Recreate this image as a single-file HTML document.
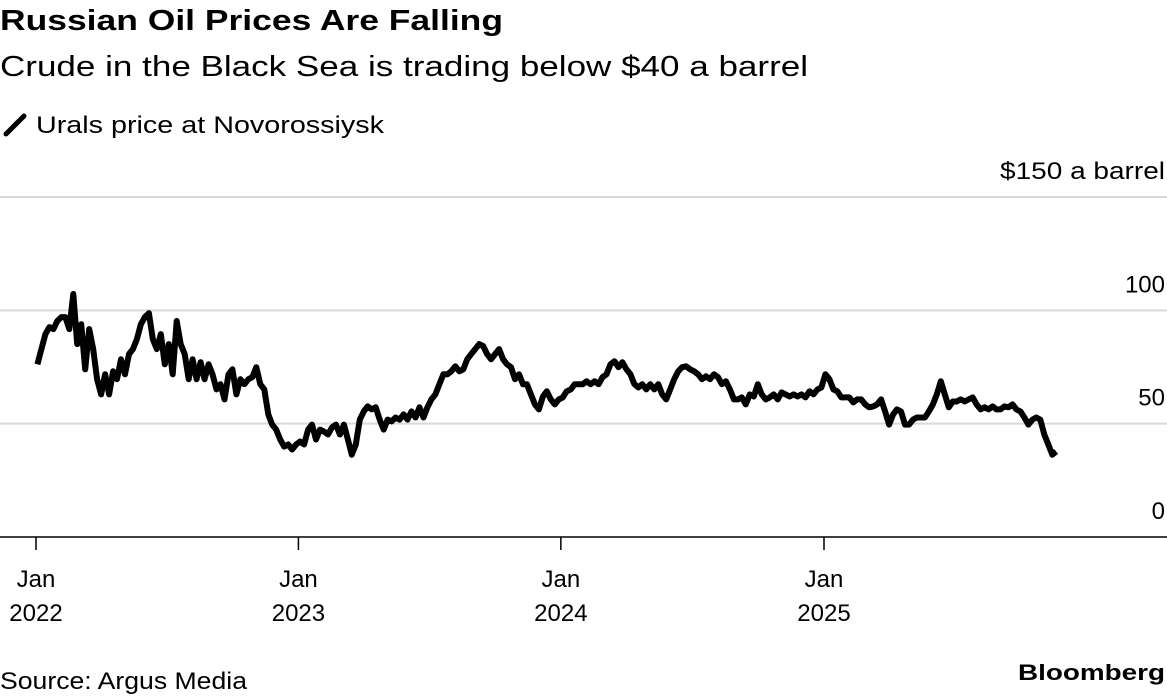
<!DOCTYPE html>
<html><head><meta charset="utf-8"><style>
body{margin:0;background:#fff;width:1167px;height:696px;overflow:hidden;font-family:"Liberation Sans",sans-serif;color:#000}
</style></head><body>
<svg width="1167" height="696" style="position:absolute;left:0;top:0">
<text x="0" y="30" font-size="29" font-weight="bold" textLength="503" lengthAdjust="spacingAndGlyphs">Russian Oil Prices Are Falling</text>
<text x="0" y="76" font-size="29" textLength="808" lengthAdjust="spacingAndGlyphs">Crude in the Black Sea is trading below $40 a barrel</text>
<g>
<line x1="6" y1="134" x2="24" y2="116" stroke="#000" stroke-width="5" stroke-linecap="round"/>
<text x="36" y="133" font-size="24" textLength="348" lengthAdjust="spacingAndGlyphs">Urals price at Novorossiysk</text>
</g>
<g id="grid"></g><g id="xaxis"></g>
<path id="line" fill="none" stroke="#000" stroke-width="6" stroke-linejoin="round"/>
<text x="0" y="689" font-size="24" textLength="247" lengthAdjust="spacingAndGlyphs">Source: Argus Media</text>
<text x="1018" y="680" font-size="22" font-weight="bold" textLength="147" lengthAdjust="spacingAndGlyphs">Bloomberg</text>
</svg>
<script>
const yTicks=[0,50,100,150];
const yTickLabels=["0","50","100","$150 a barrel"];
const xTicks=["2022-01-01","2023-01-01","2024-01-01","2025-01-01"];
const xTickLabels=[["Jan","2022"],["Jan","2023"],["Jan","2024"],["Jan","2025"]];
const startDate="2022-01-03", endDate="2025-11-20";
const prices=[76.2,82.9,89.5,92.6,91.7,95.3,97,97,91.7,107.2,85.1,93.9,74,91.7,82.9,69.6,62.9,71.8,62.9,73.1,69.6,78.4,71.8,80.7,82.9,87.3,93.9,97,98.8,87.3,82.9,89.5,76.2,85.1,71.8,95.3,85.1,80.7,69.6,78.4,69.6,77.1,69.6,76.2,71.8,65.1,67.4,60.7,71.8,74,62.9,69.6,67.4,69.6,70.5,74.9,67.4,65.1,54.1,49.6,47.4,43,39.9,40.8,38.6,40.8,42.1,40.8,47.4,49.6,43,47.4,46.5,45.2,48.3,49.6,45.2,49.6,43,36.3,40.8,51.8,55.4,57.6,56.3,57.2,51.8,47.4,51.8,51,52.7,51.8,54.1,51.8,55.4,52.7,57.2,52.7,57.2,60.7,62.9,67.4,71.8,71.8,73.1,75.3,73.1,74,78.4,80.7,82.9,85.1,84.2,80.7,78.4,80.7,82.9,78.4,76.2,74.9,69.6,71.8,67.4,67.4,62.9,58.5,56.3,62,64.3,60.7,58.5,60.7,61.6,64.3,65.1,67.4,67.4,67.4,68.7,67.4,68.7,67.4,70.5,71.8,76.2,77.5,74.9,77.1,74,71.8,67.4,66,67.4,65.1,67.4,65.1,67.4,62.9,60.7,65.1,69.6,73.1,74.9,75.3,74,73.1,71.8,69.6,70.9,69.6,71.8,70.5,67.4,68.7,65.1,60.7,60.7,61.6,58.5,62.9,62,67.4,62.9,60.7,61.6,62.9,60.7,63.8,62.9,62,62.9,62,62.9,61.6,64.3,62.9,65.1,66,71.8,69.6,65.1,64.3,61.6,61.6,61.6,59.4,60.7,60.7,58.5,57.2,57.6,58.5,60.7,55.4,49.6,54.1,56.3,55.4,49.6,49.6,51.8,52.7,52.7,52.7,55.4,58.5,62.9,68.7,62.9,57.2,59.8,59.8,60.7,59.8,60.7,61.6,58.5,56.3,57.2,56.3,57.6,56.3,56.3,57.6,57.2,58.5,56.3,55.4,52.7,49.6,51.8,52.7,51.8,45.2,40.8,36.3,37.7];
const NS="http://www.w3.org/2000/svg";
const t0=Date.parse("2022-01-01"),t1=Date.parse("2025-01-01");
function xs(d){return 36+(Date.parse(d)-t0)/(t1-t0)*(824-36);}
function xt(ms){return 36+(ms-t0)/(t1-t0)*(824-36);}
function ys(v){return 537-v*(537-197)/150;}
const grid=document.getElementById('grid');
yTicks.forEach((v,i)=>{
 const l=document.createElementNS(NS,'line');
 l.setAttribute('x1',0);l.setAttribute('x2',1167);l.setAttribute('y1',ys(v));l.setAttribute('y2',ys(v));
 l.setAttribute('stroke',v===0?'#000':'#d9d9d9');l.setAttribute('stroke-width',v===0?1.5:2);
 
 
 grid.appendChild(l);
 const t=document.createElementNS(NS,'text');
 t.setAttribute('x',i===3?1000:1165);t.setAttribute('y',ys(v)-18);
 if(i===3){t.setAttribute('textLength','165');t.setAttribute('lengthAdjust','spacingAndGlyphs');}
 else t.setAttribute('text-anchor','end');
 t.setAttribute('font-size','24');
 t.textContent=yTickLabels[i];
 
 
 grid.appendChild(t);
});
const xa=document.getElementById('xaxis');
xTicks.forEach((d,i)=>{
 const x=xs(d);
 const l=document.createElementNS(NS,'line');
 l.setAttribute('x1',x);l.setAttribute('x2',x);l.setAttribute('y1',537);l.setAttribute('y2',550);
 l.setAttribute('stroke','#000');l.setAttribute('stroke-width',1.5);
 
 
 xa.appendChild(l);
 xTickLabels[i].forEach((s,j)=>{
  const t=document.createElementNS(NS,'text');
  t.setAttribute('x',x);t.setAttribute('y',587+j*34);t.setAttribute('text-anchor','middle');t.setAttribute('font-size','24');
  t.textContent=s;
  
  
  xa.appendChild(t);
 });
});
const s=Date.parse(startDate),e=Date.parse(endDate),n=prices.length;
let p='';
prices.forEach((v,i)=>{const ms=s+(e-s)*i/(n-1);p+=(i?'L':'M')+xt(ms).toFixed(1)+','+ys(v).toFixed(1);});
document.getElementById('line').setAttribute('d',p);
</script>
</body></html>
